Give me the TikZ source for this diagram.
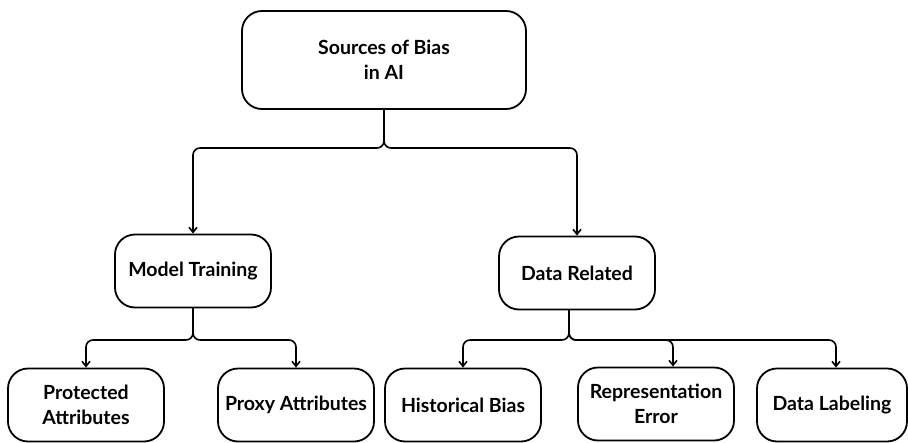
\documentclass[tikz,border=0pt]{standalone}
\usepackage{fontspec}
\setmainfont{Lato}
\usepackage{tikz}
\usetikzlibrary{arrows.meta, positioning}

\begin{document}
\begin{tikzpicture}[x=1pt, y=-1pt,
    box/.style={draw, line width=1.8pt, rounded corners=20pt, align=center,
        minimum width=156pt, minimum height=73pt, inner sep=0pt,
        font=\fontsize{19.5}{24.5}\selectfont\bfseries},
    link/.style={line width=1.6pt, rounded corners=7pt,
        -{Straight Barb[length=5pt, width=8pt, line width=1.6pt]}}]

\useasboundingbox (0,0) rectangle (908,442);

% Top box
\node[box, minimum width=284pt, minimum height=98pt] (root) at (384,60) {Sources of Bias\\in AI};

% Second level
\node[box] (mt) at (193,271) {Model Training};
\node[box] (dr) at (577,273) {Data Related};

% Third level
\node[box] (pa) at (86,405) {Protected\\Attributes};
\node[box] (px) at (296,405) {Proxy Attributes};
\node[box] (hb) at (463,405) {Historical Bias};
\node[box] (re) at (656,404) {Representation\\Error};
\node[box, minimum width=150pt] (dl) at (832,405) {Data Labeling};

% Junction points under each box
\coordinate (rootjoin) at (384,148);
\coordinate (mtjoin) at (193,340);
\coordinate (drjoin) at (569,340);

% Connectors
\draw[link] (root.south) -- (rootjoin) -| (mt.north);
\draw[link] (root.south) -- (rootjoin) -| (dr.north);

\draw[link] (mt.south) -- (mtjoin) -| (pa.north);
\draw[link] (mt.south) -- (mtjoin) -| (px.north);

\draw[link] (drjoin |- dr.south) -- (drjoin) -| (hb.north);
\draw[link] (drjoin |- dr.south) -- (drjoin) -| ([xshift=17pt]re.north);
\draw[link] (drjoin |- dr.south) -- (drjoin) -| ([xshift=4pt]dl.north);

\end{tikzpicture}
\end{document}
